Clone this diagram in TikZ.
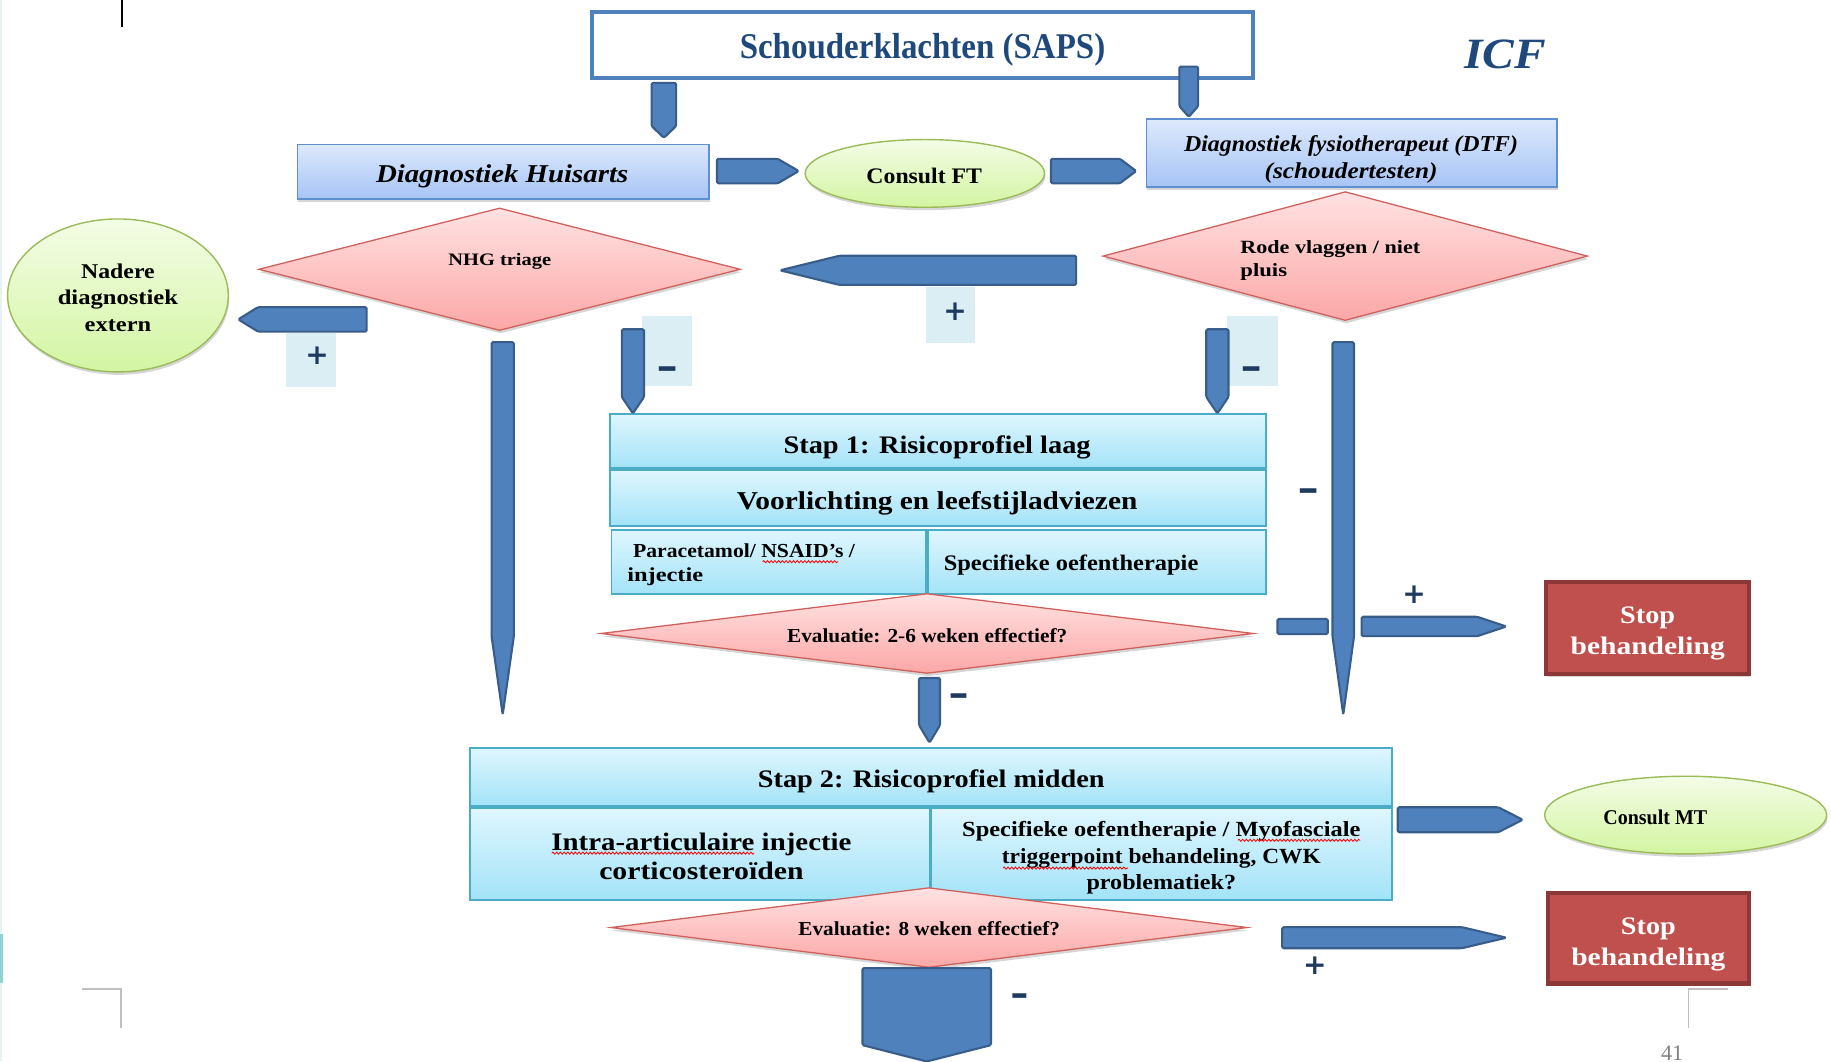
\documentclass[tikz,border=0pt]{standalone}
\usepackage{graphicx}
\usepackage{fontspec}
\setmainfont{Liberation Serif}
\newfontfamily\signfont{DejaVu Sans}
\usetikzlibrary{calc,shapes.geometric,shadows,decorations.pathmorphing}
\definecolor{arrowblue}{HTML}{4F81BD}
\definecolor{arrowdark}{HTML}{385D8A}
\definecolor{navy}{HTML}{1F497D}
\definecolor{signcol}{HTML}{1F3A5F}
\definecolor{hutop}{HTML}{DDE9FC}
\definecolor{hubot}{HTML}{A6C4F5}
\definecolor{huline}{HTML}{5F8FD0}
\definecolor{grtop}{HTML}{F4FCE6}
\definecolor{grbot}{HTML}{D3F5A2}
\definecolor{grline}{HTML}{9BBB59}
\definecolor{rdtop}{HTML}{FFE2E2}
\definecolor{rdbot}{HTML}{FCA7A7}
\definecolor{rdline}{HTML}{D0605C}
\definecolor{cytop}{HTML}{DFF6FE}
\definecolor{cybot}{HTML}{A3E3F8}
\definecolor{cyline}{HTML}{4BACC6}
\definecolor{stopfill}{HTML}{C0504D}
\definecolor{stopline}{HTML}{8C3836}
\definecolor{labelbg}{HTML}{DBEEF3}
\definecolor{markgray}{HTML}{BFBFBF}
\definecolor{edgecyan}{HTML}{8FD3D3}
\definecolor{edgefaint}{HTML}{E6F3F3}

\newcommand\fw[2]{\resizebox{#1pt}{\height}{#2}}
% block arrow: #1 start, #2 tip, #3 half width, #4 tip length
\newcommand\blk[4]{%
  \coordinate (blkS) at ($(#2)!#4!(#1)$);
  \path[blockarrow] ($(#1)!#3!90:(#2)$) -- ($(blkS)!#3!90:(#2)$) -- (#2)
     -- ($(blkS)!#3!-90:(#2)$) -- ($(#1)!#3!-90:(#2)$) -- cycle;}

\tikzset{
 softshadow/.style={drop shadow={shadow xshift=0.8pt, shadow yshift=-2.5pt, opacity=0.16, fill=black}},
 bluebox/.style={rectangle, draw=huline, line width=1.5pt, top color=hutop, bottom color=hubot, inner sep=0pt, softshadow},
 greenell/.style={ellipse, draw=grline, line width=1.2pt, top color=grtop, bottom color=grbot, inner sep=0pt, softshadow},
 reddiam/.style={diamond, draw=rdline, line width=1.1pt, top color=rdtop, bottom color=rdbot, inner sep=0pt, softshadow},
 cyancell/.style={rectangle, draw=cyline, line width=1.5pt, top color=cytop, bottom color=cybot, inner sep=0pt},
 stopbox/.style={rectangle, draw=stopline, line width=3.5pt, fill=stopfill, inner sep=0pt, softshadow},
 labelbox/.style={rectangle, fill=labelbg, inner sep=0pt},
 sign/.style={text=signcol, font=\signfont\bfseries\fontsize{24}{24}\selectfont, inner sep=0pt},
 minus/.style={text=signcol, font=\signfont\bfseries\fontsize{34}{34}\selectfont, inner sep=0pt},
 blockarrow/.style={fill=arrowblue, draw=arrowdark, line width=1.8pt, rounded corners=1.2pt, line join=round},
 txt/.style={inner sep=0pt, align=center},
 wavy/.style={draw=red, line width=0.7pt, decorate, decoration={snake, amplitude=0.9pt, segment length=3.2pt}},
}

\begin{document}
\begin{tikzpicture}[x=1pt,y=-1pt]
\path[use as bounding box] (0,0) rectangle (1568,909);
\fill[white] (0,0) rectangle (1568,909);

% page furniture
\draw[edgefaint, line width=1.5pt] (0.75,0) -- (0.75,909);
\draw[edgecyan, line width=2.5pt] (1.25,800) -- (1.25,842);
\draw[black, line width=1.6pt] (104.5,0) -- (104.5,23);
\draw[markgray, line width=1.2pt] (70,847) -- (103.6,847) -- (103.6,880);
\draw[markgray, line width=1.2pt] (1480,847) -- (1446,847) -- (1446,880);
\node[inner sep=0pt, text=black!50, font=\fontsize{19}{19}\selectfont] (pg) at (1432,901.5) {41};

% label backgrounds
\node[labelbox, minimum width=43pt, minimum height=46pt] (lb1) at (266.5,308) {};
\node[labelbox, minimum width=42pt, minimum height=48.5pt] (lb2) at (814,269.75) {};
\node[labelbox, minimum width=42.6pt, minimum height=60pt] (lb3) at (571.3,300.6) {};
\node[labelbox, minimum width=43pt, minimum height=60pt] (lb4) at (1072.5,300.6) {};

% top box
\node[rectangle, draw=arrowblue, line width=3.4pt, fill=white, minimum width=566.6pt, minimum height=56.5pt, inner sep=0pt] (saps) at (790,38.5) {};
\node[txt, text=navy, font=\bfseries\fontsize{31}{31}\selectfont] (sapst) at (790,42.5) {\fw{313}{Schouderklachten (SAPS)}};
\node[text=navy, font=\bfseries\itshape\fontsize{37}{37}\selectfont, inner sep=0pt, anchor=base] (icf) at (1289,58.6) {\fw{70}{ICF}};

% second row
\node[bluebox, minimum width=352.5pt, minimum height=46.5pt] (hu) at (431,147) {};
\node[txt, font=\bfseries\itshape\fontsize{22}{22}\selectfont] (hut) at (430,151) {\fw{216}{Diagnostiek Huisarts}};
\node[greenell, minimum width=205pt, minimum height=58pt] (cft) at (792,148.5) {};
\node[txt, font=\bfseries\fontsize{19}{19}\selectfont] (cftt) at (791.5,150.5) {\fw{99}{Consult FT}};
\node[bluebox, minimum width=351.5pt, minimum height=58.5pt] (dtf) at (1157.5,131) {};
\node[txt, font=\bfseries\itshape\fontsize{19.5}{22.6}\selectfont] (dtft) at (1157,136.5) {\fw{286}{Diagnostiek fysiotherapeut (DTF)}\\\fw{148}{(schoudertesten)}};

% decisions
\node[reddiam, minimum width=412.5pt, minimum height=105pt] (nhg) at (427.8,230.6) {};
\node[txt, font=\bfseries\fontsize{15}{15}\selectfont] (nhgt) at (428,224) {\fw{88}{NHG triage}};
\node[greenell, minimum width=189pt, minimum height=131pt] (nad) at (101,253) {};
\node[txt, font=\bfseries\fontsize{18}{22.7}\selectfont] (nadt) at (101,255) {\fw{63}{Nadere}\\\fw{103}{diagnostiek}\\\fw{57}{extern}};
\node[reddiam, minimum width=415pt, minimum height=110.4pt] (rode) at (1152,219.3) {};
\node[txt, align=left, anchor=west, font=\bfseries\fontsize{16}{19.2}\selectfont] (rodet) at (1062,223) {\fw{154}{Rode vlaggen / niet}\\\fw{40}{pluis}};

% Stap 1
\node[cyancell, minimum width=562pt, minimum height=46.6pt] (s1a) at (803.25,377.65) {};
\node[txt, font=\bfseries\fontsize{21.6}{21.6}\selectfont] (s1at) at (802.5,383) {\fw{263}{Stap 1: Risicoprofiel laag}};
\node[cyancell, minimum width=562pt, minimum height=47.8pt] (s1b) at (803.25,426.35) {};
\node[txt, font=\bfseries\fontsize{22}{22}\selectfont] (s1bt) at (802.5,431) {\fw{343}{Voorlichting en leefstijladviezen}};
\node[cyancell, minimum width=269.5pt, minimum height=55pt] (s1c) at (658.5,481.3) {};
\node[cyancell, minimum width=289.5pt, minimum height=55pt] (s1d) at (939.5,481.3) {};
\node[txt, anchor=west, align=left, font=\bfseries\fontsize{17}{20}\selectfont] (s1ct) at (537,483.5) {\hspace*{5pt}\fw{190}{Paracetamol/ NSAID’s /}\\\fw{65}{injectie}};
\node[txt, anchor=west, font=\bfseries\fontsize{19}{19}\selectfont] (s1dt) at (808,484) {\fw{218}{Specifieke oefentherapie}};
\draw[wavy] (653,481) -- (718,481);

\node[reddiam, minimum width=559pt, minimum height=68.4pt] (e26) at (794,542.5) {};
\node[txt, font=\bfseries\fontsize{17}{17}\selectfont] (e26t) at (794,544.5) {\fw{240}{Evaluatie: 2-6 weken effectief?}};

\node[stopbox, minimum width=174pt, minimum height=78.5pt] (stop1) at (1410.8,538) {};
\node[txt, text=white, font=\bfseries\fontsize{21.6}{26.6}\selectfont] (stop1t) at (1411,542.5) {\fw{47}{Stop}\\\fw{132}{behandeling}};
\node[rectangle, fill=arrowblue, draw=arrowdark, line width=1.8pt, rounded corners=1.2pt, minimum width=43pt, minimum height=13pt, inner sep=0pt] (stub) at (1115.5,536.5) {};

% Stap 2
\node[cyancell, minimum width=789.7pt, minimum height=49.5pt] (s2a) at (797.4,665.5) {};
\node[txt, font=\bfseries\fontsize{21.6}{21.6}\selectfont] (s2at) at (797.5,669) {\fw{297}{Stap 2: Risicoprofiel midden}};
\node[cyancell, minimum width=393.7pt, minimum height=79.1pt] (s2b) at (599.4,731.3) {};
\node[cyancell, minimum width=394.5pt, minimum height=79.1pt] (s2c) at (995,731.3) {};
\node[txt, font=\bfseries\fontsize{21.6}{25.5}\selectfont] (s2bt) at (600.7,733.3) {\fw{257}{Intra-articulaire injectie}\\\fw{175}{corticosteroïden}};
\node[txt, font=\bfseries\fontsize{18.5}{22.5}\selectfont] (s2ct) at (994.5,734.7) {\fw{341}{Specifieke oefentherapie / Myofasciale}\\\fw{273}{triggerpoint behandeling, CWK}\\\fw{128}{problematiek?}};
\draw[wavy] (472.5,730.6) -- (645.7,730.6);
\draw[wavy] (1060,719.6) -- (1165,719.6);
\draw[wavy] (859,743.4) -- (966,743.4);

\node[greenell, minimum width=241.5pt, minimum height=66.5pt] (cmt) at (1443.5,698) {};
\node[txt, font=\bfseries\fontsize{18}{18}\selectfont] (cmtt) at (1417.5,699.6) {\fw{89}{Consult MT}};

\node[reddiam, minimum width=545pt, minimum height=68.4pt] (e8) at (795.5,794.3) {};
\node[txt, font=\bfseries\fontsize{17}{17}\selectfont] (e8t) at (795.7,795) {\fw{224}{Evaluatie: 8 weken effectief?}};

\node[stopbox, minimum width=172.5pt, minimum height=77.5pt] (stop2) at (1411.6,803.5) {};
\node[txt, text=white, font=\bfseries\fontsize{21.6}{26.6}\selectfont] (stop2t) at (1411.6,808.5) {\fw{47}{Stop}\\\fw{132}{behandeling}};

% block arrow end points
\coordinate (b1s) at (568.5,71);   \coordinate (b1e) at (568.5,118);
\coordinate (b2s) at (1018,57);    \coordinate (b2e) at (1018,100);
\coordinate (b3s) at (614,146.5);  \coordinate (b3e) at (684,146.5);
\coordinate (b4s) at (900,146.5);  \coordinate (b4e) at (973,146.5);
\coordinate (b5s) at (921.6,231.5);\coordinate (b5e) at (668,231.5);
\coordinate (b6s) at (314,273.5);  \coordinate (b6e) at (204,273.5);
\coordinate (b7s) at (430.5,293);  \coordinate (b7e) at (430.5,612);
\coordinate (b8s) at (542,282);    \coordinate (b8e) at (542,354);
\coordinate (b9s) at (1042.5,282); \coordinate (b9e) at (1042.5,354);
\coordinate (b10s) at (1150.3,293);\coordinate (b10e) at (1150.3,612);
\coordinate (b12s) at (1166,536.5);\coordinate (b12e) at (1290,536.5);
\coordinate (b13s) at (796,580.6); \coordinate (b13e) at (796,636);
\coordinate (b14s) at (1197,702);  \coordinate (b14e) at (1304,702);
\coordinate (b15s) at (1098,803);  \coordinate (b15e) at (1290,803);
\coordinate (b16s) at (793.6,829); \coordinate (b16e) at (793.6,909);

\blk{b1s}{b1e}{10.5pt}{10pt}
\blk{b2s}{b2e}{8pt}{9pt}
\blk{b3s}{b3e}{10.5pt}{18pt}
\blk{b4s}{b4e}{10.5pt}{14pt}
\blk{b5s}{b5e}{12.5pt}{51pt}
\blk{b6s}{b6e}{10.5pt}{17pt}
\blk{b7s}{b7e}{9.5pt}{67pt}
\blk{b8s}{b8e}{9.5pt}{14pt}
\blk{b9s}{b9e}{9.5pt}{14pt}
\blk{b10s}{b10e}{9.2pt}{67pt}
\blk{b12s}{b12e}{8.3pt}{25pt}
\blk{b13s}{b13e}{9pt}{15pt}
\blk{b14s}{b14e}{10.7pt}{21pt}
\blk{b15s}{b15e}{9pt}{38pt}
\blk{b16s}{b16e}{55pt}{14pt}

% signs
\node[sign] (p1) at (271.5,305) {+};
\node[sign] (p2) at (818,267) {+};
\node[minus] (m1) at (572,320) {\fw{19}{−}};
\node[minus] (m2) at (1072,320) {\fw{19}{−}};
\node[minus] (m3) at (1121,425) {\fw{19}{−}};
\node[sign] (p3) at (1211,509.6) {+};
\node[minus] (m4) at (821.5,600) {\fw{18}{−}};
\node[sign] (p4) at (1126,827) {+};
\node[minus] (m5) at (873.5,857) {\fw{16}{−}};
\end{tikzpicture}
\end{document}
